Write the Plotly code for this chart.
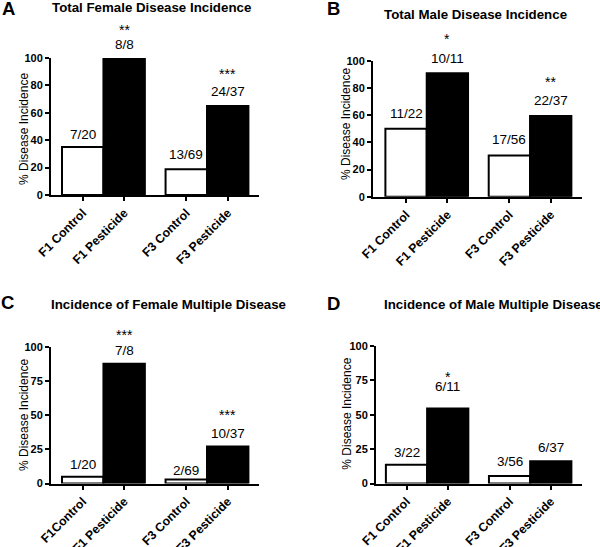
import plotly.graph_objects as go

# ---------------- data ----------------
categories_A = ["F1 Control", "F1 Pesticide", "F3 Control", "F3 Pesticide"]
values_A = [35.0, 100.0, 18.8, 64.9]
fractions_A = ["7/20", "8/8", "13/69", "24/37"]
stars_A = ["", "**", "", "***"]

categories_B = ["F1 Control", "F1 Pesticide", "F3 Control", "F3 Pesticide"]
values_B = [50.0, 90.9, 30.4, 59.5]
fractions_B = ["11/22", "10/11", "17/56", "22/37"]
stars_B = ["", "*", "", "**"]

categories_C = ["F1Control", "F1 Pesticide", "F3 Control", "F3 Pesticide"]
values_C = [5.0, 87.5, 2.9, 27.0]
fractions_C = ["1/20", "7/8", "2/69", "10/37"]
stars_C = ["", "***", "", "***"]

categories_D = ["F1 Control", "F1 Pesticide", "F3 Control", "F3 Pesticide"]
values_D = [13.6, 54.5, 5.4, 16.2]
fractions_D = ["3/22", "6/11", "3/56", "6/37"]
stars_D = ["", "*", "", ""]

ticks_AB = [0, 20, 40, 60, 80, 100]
ticks_CD = [0, 25, 50, 75, 100]

titles = ["Total Female Disease Incidence", "Total Male Disease Incidence",
          "Incidence of Female Multiple Disease", "Incidence of Male Multiple Disease"]
letters = ["A", "B", "C", "D"]
y_title = "% Disease Incidence"

# ---------------- style / layout ----------------
W, H = 600, 547
FONT = "Liberation Sans, Arial, sans-serif"
slots = [0, 1, 2.5, 3.5]
fills = ["white", "black", "white", "black"]


def px(x):
    return x / W


def py(y):
    return 1 - y / H


panels = [
    dict(cats=categories_A, vals=values_A, fr=fractions_A, st=stars_A, yt=ticks_AB,
         xdom=[51, 259.3], ydom=[195, 58], xr=[-0.766, 4.263],
         frs=[12.3, 14, 14.4, 15], sts=[0, 32, 0, 36.5],
         title_xy=(50, 7.5), letter_xy=(8, 8.5), ytitle_xy=(24, 129)),
    dict(cats=categories_B, vals=values_B, fr=fractions_B, st=stars_B, yt=ticks_AB,
         xdom=[373, 581.7], ydom=[196.7, 61], xr=[-0.80, 4.25],
         frs=[15.5, 14.7, 16, 15.7], sts=[0, 38, 0, 37.7],
         title_xy=(381.7, 15), letter_xy=(333, 8.5), ytitle_xy=(346, 124)),
    dict(cats=categories_C, vals=values_C, fr=fractions_C, st=stars_C, yt=ticks_CD,
         xdom=[51, 259.3], ydom=[483.5, 346.7], xr=[-0.766, 4.263],
         frs=[12.3, 13.3, 9.3, 13.3], sts=[0, 33.3, 0, 35.3],
         title_xy=(49.3, 304), letter_xy=(7, 302), ytitle_xy=(24, 415)),
    dict(cats=categories_D, vals=values_D, fr=fractions_D, st=stars_D, yt=ticks_CD,
         xdom=[376, 581.7], ydom=[483.5, 346], xr=[-0.74, 4.25],
         frs=[12.7, 22.3, 14.3, 14], sts=[0, 36, 0, 0],
         title_xy=(381.7, 304), letter_xy=(333.5, 303), ytitle_xy=(346.7, 414)),
]

fig = go.Figure()
annotations = []
layout = dict(
    width=W, height=H, margin=dict(l=0, r=0, t=0, b=0, pad=0, autoexpand=False),
    paper_bgcolor="white", plot_bgcolor="white", showlegend=False,
    font=dict(family=FONT, color="black"),
)

for i, p in enumerate(panels):
    n = "" if i == 0 else str(i + 1)
    xa, ya = "x" + n, "y" + n
    fig.add_trace(go.Bar(
        x=slots, y=p["vals"], width=1, xaxis=xa, yaxis=ya,
        marker=dict(color=fills, line=dict(color="black", width=2)),
        cliponaxis=False, hoverinfo="skip",
    ))
    layout["xaxis" + n] = dict(
        domain=[px(p["xdom"][0]), px(p["xdom"][1])], anchor=ya, automargin=False,
        range=p["xr"], tickvals=slots, ticktext=p["cats"], tickangle=-45,
        showline=True, linewidth=2, linecolor="black", ticks="outside",
        ticklen=4, tickwidth=2, tickcolor="black", showgrid=False, zeroline=False,
        tickfont=dict(family=FONT, size=12.3, color="black", weight="bold"),
    )
    layout["yaxis" + n] = dict(
        domain=[py(p["ydom"][0]), py(p["ydom"][1])], anchor=xa, automargin=False,
        range=[0, 100], tickvals=p["yt"],
        showline=True, linewidth=2, linecolor="black", ticks="outside",
        ticklen=4, tickwidth=2, tickcolor="black", showgrid=False, zeroline=False,
        tickfont=dict(family=FONT, size=11, color="black", weight="bold"),
    )
    # fraction + stars labels
    for j in range(4):
        annotations.append(dict(
            x=slots[j], y=p["vals"][j], xref=xa, yref=ya, text=p["fr"][j],
            showarrow=False, xanchor="center", yanchor="middle", yshift=p["frs"][j],
            font=dict(family=FONT, size=13.5, color="black"),
        ))
        if p["st"][j]:
            annotations.append(dict(
                x=slots[j], y=p["vals"][j], xref=xa, yref=ya, text=p["st"][j],
                showarrow=False, xanchor="center", yanchor="middle", yshift=p["sts"][j] - 4,
                font=dict(family=FONT, size=14, color="black"),
            ))
    # title
    tx, ty = p["title_xy"]
    annotations.append(dict(
        x=px(tx), y=py(ty), xref="paper", yref="paper", text=titles[i],
        showarrow=False, xanchor="left", yanchor="middle",
        font=dict(family=FONT, size=13.3, color="black", weight="bold"),
    ))
    lx, ly = p["letter_xy"]
    annotations.append(dict(
        x=px(lx), y=py(ly), xref="paper", yref="paper", text=letters[i],
        showarrow=False, xanchor="center", yanchor="middle",
        font=dict(family=FONT, size=18.5, color="black", weight="bold"),
    ))
    yx, yy = p["ytitle_xy"]
    annotations.append(dict(
        x=px(yx), y=py(yy), xref="paper", yref="paper", text=y_title,
        showarrow=False, xanchor="center", yanchor="middle", textangle=-90,
        font=dict(family=FONT, size=12, color="black"),
    ))

layout["annotations"] = annotations
fig.update_layout(**layout)
fig.write_html(
    "out.html",
    config={"displayModeBar": False, "staticPlot": True},
    post_script="document.body.style.margin='0px';document.body.style.overflow='hidden';",
)
